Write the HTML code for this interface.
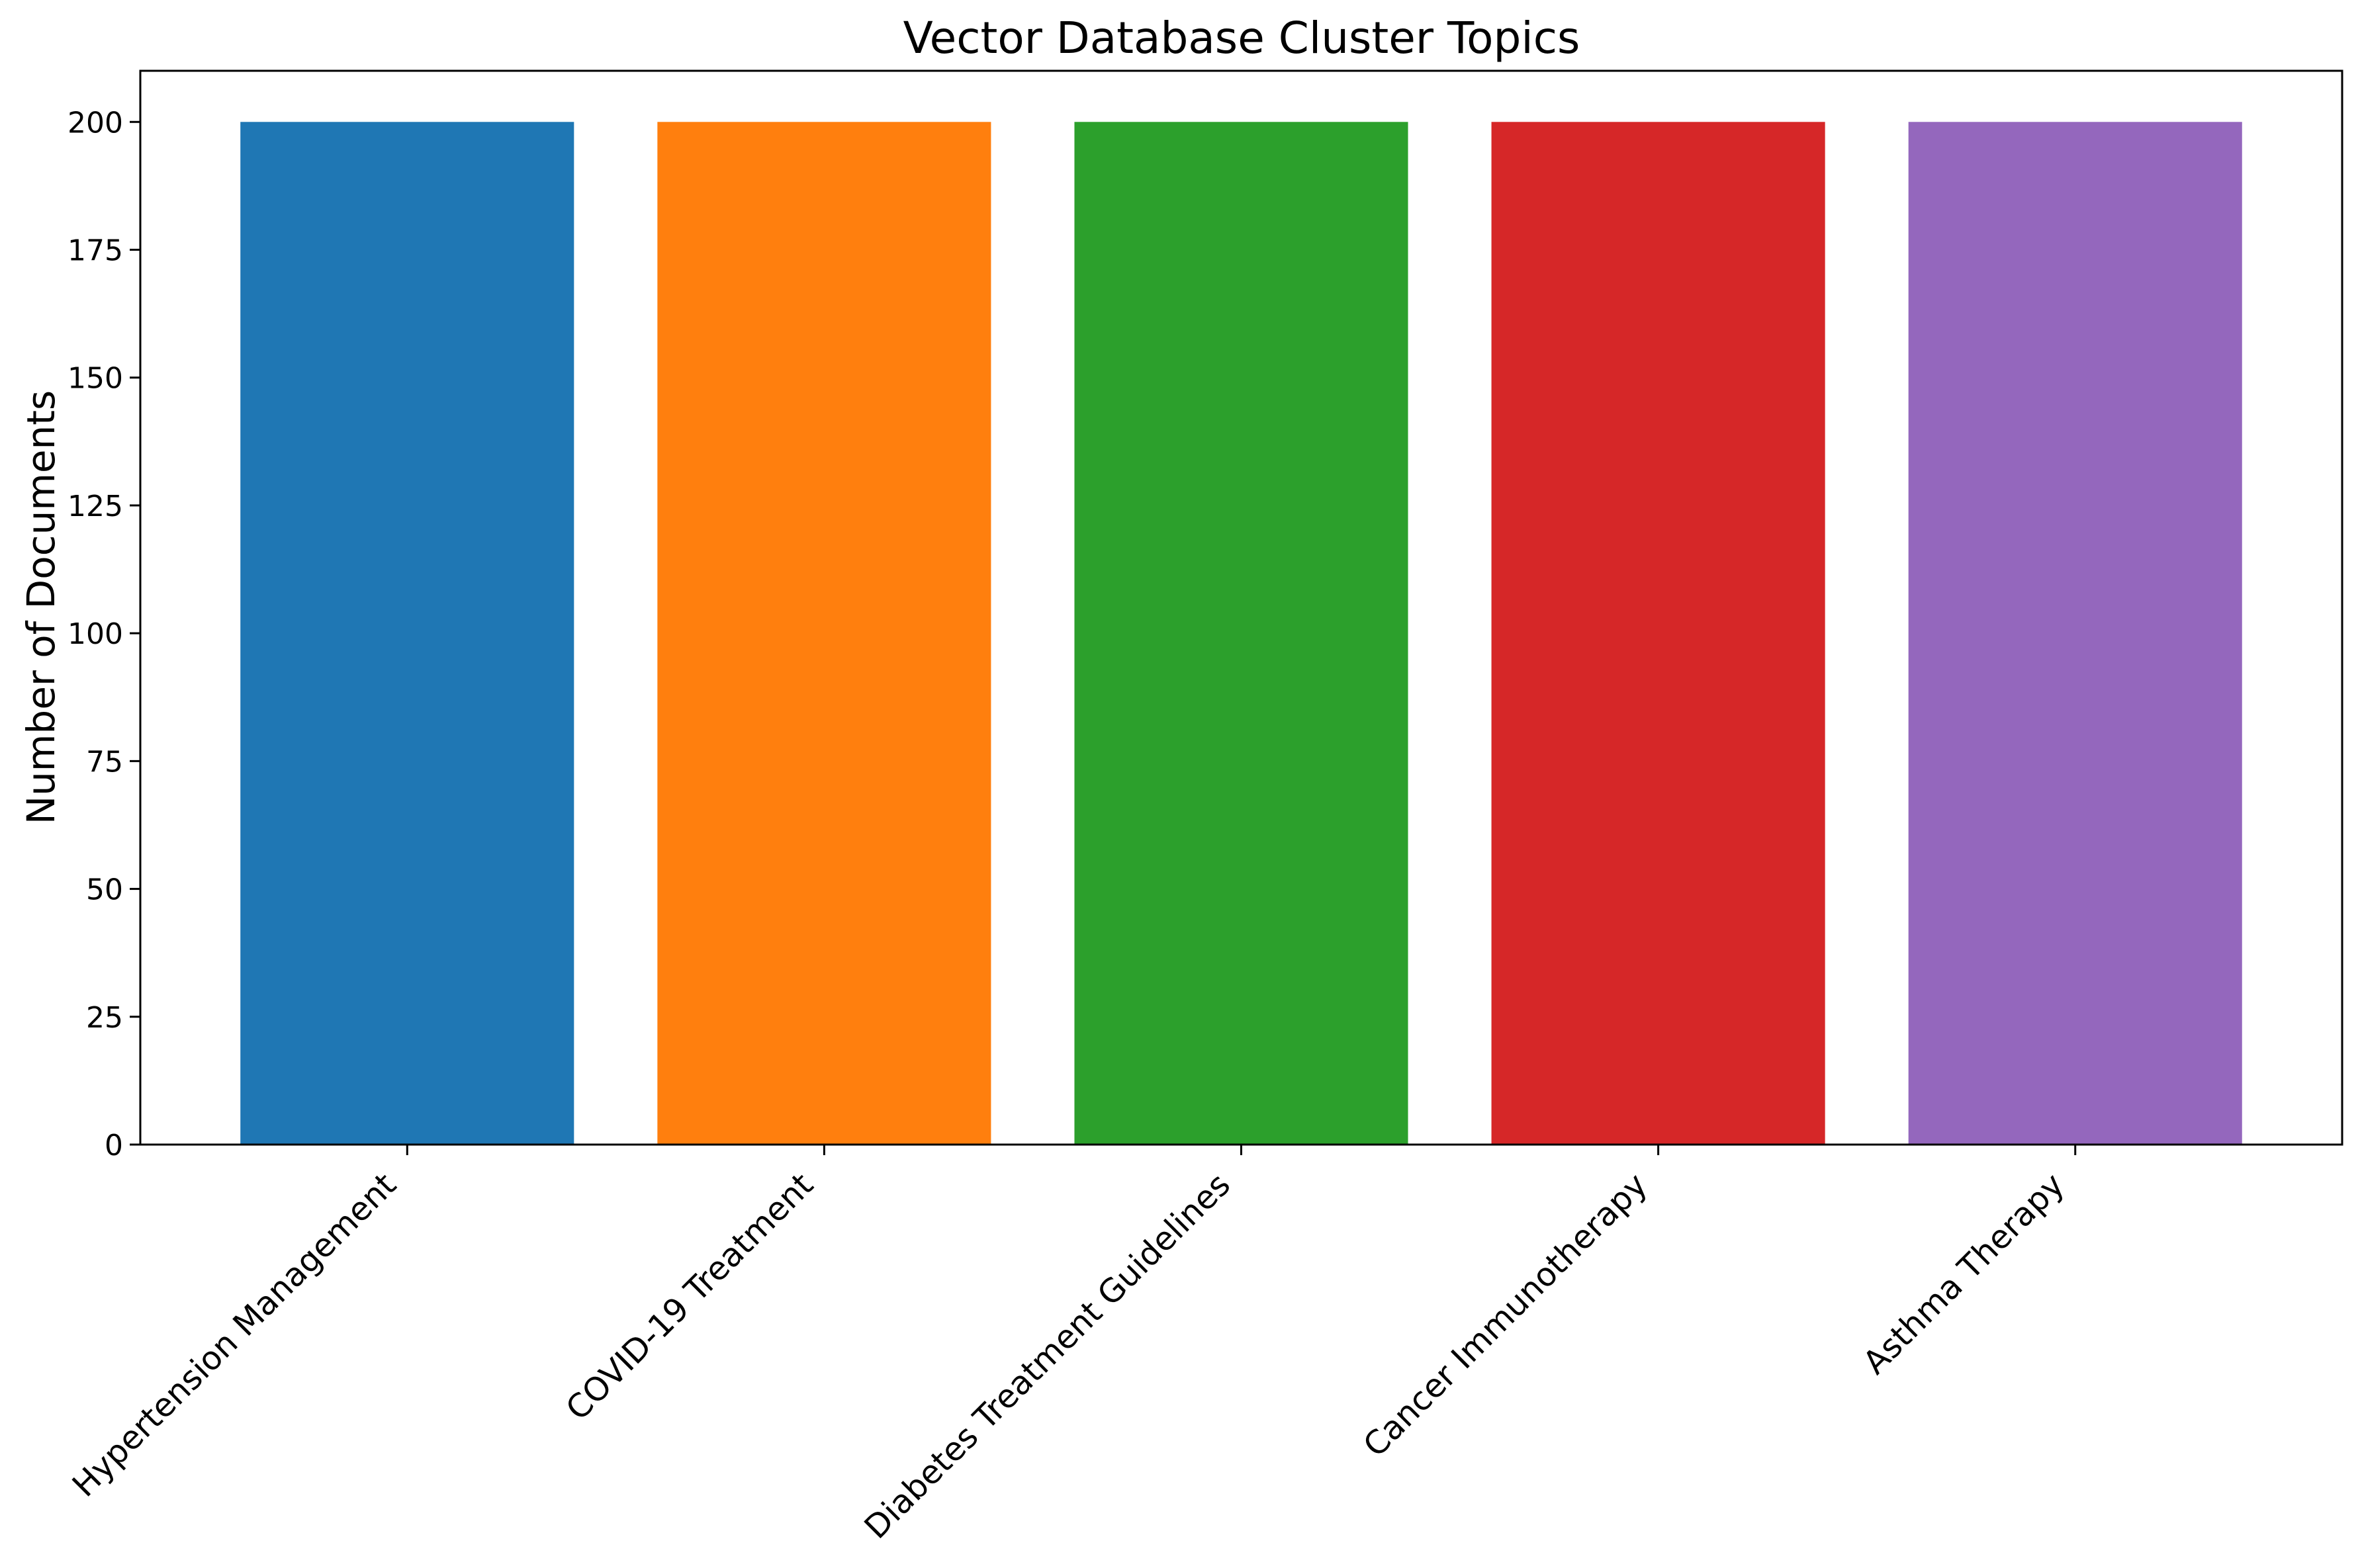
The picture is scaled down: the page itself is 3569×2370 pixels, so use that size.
<!DOCTYPE html>
<html><head><meta charset="utf-8">
<style>html,body{margin:0;padding:0;background:#fff}svg{display:block}text{font-family:"DejaVu Sans","Liberation Sans",sans-serif;fill:#000}</style>
</head><body>
<svg id="chart" width="3569" height="2370" viewBox="0 0 3569 2370" xmlns="http://www.w3.org/2000/svg">
<rect width="3569" height="2370" fill="#fff"/>
<text x="1876" y="80" font-size="66" text-anchor="middle">Vector Database Cluster Topics</text>
<text transform="translate(82,918) rotate(-90)" font-size="58" text-anchor="middle">Number of Documents</text>
<g id="bars"></g>
<g id="yticks"></g>
<g id="xticks"></g>
<rect x="212" y="107" width="3327" height="1623" fill="none" stroke="#000" stroke-width="3"/>
</svg>
<script>
const categories = ["Hypertension Management","COVID-19 Treatment","Diabetes Treatment Guidelines","Cancer Immunotherapy","Asthma Therapy"];
const values = [200,200,200,200,200];
const colors = ["#1f77b4","#ff7f0e","#2ca02c","#d62728","#9467bd"];
const yTickValues = [0,25,50,75,100,125,150,175,200];

const NS="http://www.w3.org/2000/svg";
const L=212,R=3539,T=107,B=1730;
const xMin=-0.64,xMax=categories.length-1+0.64,yMax=210;
const xs=v=>L+(v-xMin)/(xMax-xMin)*(R-L);
const ys=v=>B-v/yMax*(B-T);
function mk(tag,attrs){const e=document.createElementNS(NS,tag);for(const k in attrs)e.setAttribute(k,attrs[k]);return e;}
const gb=document.getElementById('bars'),gy=document.getElementById('yticks'),gx=document.getElementById('xticks');
categories.forEach((c,i)=>{
  const x0=xs(i-0.4),x1=xs(i+0.4);
  const r=mk('rect',{x:x0,y:ys(values[i]),width:x1-x0,height:ys(0)-ys(values[i]),fill:colors[i]});
  
  
  gb.appendChild(r);
  const cx=xs(i);
  const t=mk('line',{x1:cx,y1:B,x2:cx,y2:B+16,stroke:'#000','stroke-width':3});
  
  
  gx.appendChild(t);
  const lx=cx-14,ly=B+64;
  const tx=mk('text',{x:lx,y:ly,'font-size':49,'text-anchor':'end',transform:`rotate(-45 ${lx} ${ly})`});
  tx.textContent=c;
  
  
  gx.appendChild(tx);
});
yTickValues.forEach(v=>{
  const y=ys(v);
  const t=mk('line',{x1:L-16,y1:y,x2:L,y2:y,stroke:'#000','stroke-width':3});
  
  
  gy.appendChild(t);
  const tx=mk('text',{x:L-26,y:y+16,'font-size':44,'text-anchor':'end'});
  tx.textContent=v;
  
  
  gy.appendChild(tx);
});
</script>
</body></html>
